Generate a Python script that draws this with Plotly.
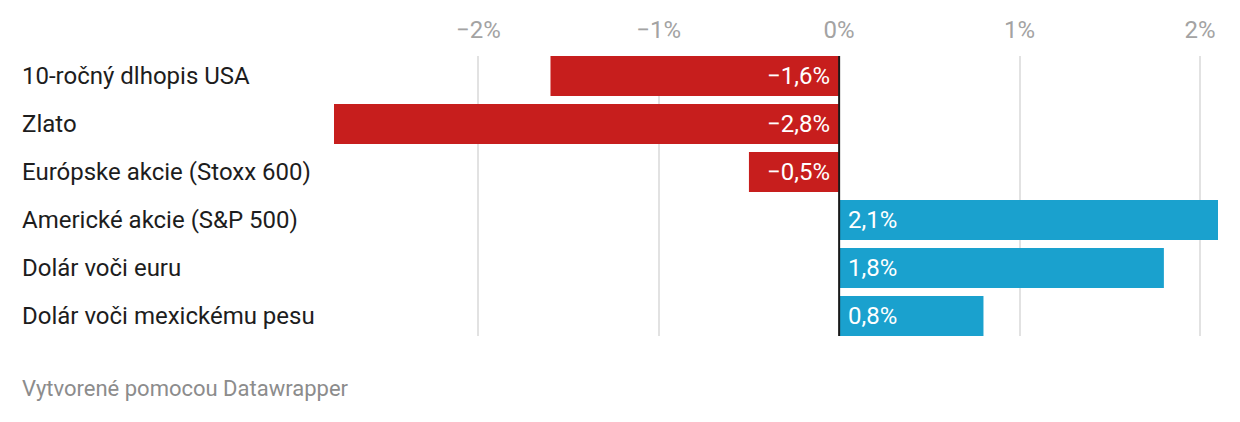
import plotly.graph_objects as go

categories = ["10-ročný dlhopis USA", "Zlato", "Európske akcie (Stoxx 600)",
              "Americké akcie (S&P 500)", "Dolár voči euru", "Dolár voči mexickému pesu"]
values = [-1.6, -2.8, -0.5, 2.1, 1.8, 0.8]
value_labels = ["−1,6%", "−2,8%", "−0,5%", "2,1%", "1,8%", "0,8%"]
tick_vals = [-2, -1, 0, 1, 2]
tick_text = ["−2%", "−1%", "0%", "1%", "2%"]

RED = "#c71e1d"
BLUE = "#1aa1ce"
colors = [RED if v < 0 else BLUE for v in values]
FONT = "Roboto, Arial, sans-serif"

# page has an 8px body margin, so figure is offset by 8px
W, H = 1232, 414
plot_left, plot_right = 326, 1210
plot_top, plot_bot = 48, 328
pw = plot_right - plot_left
ph = plot_bot - plot_top

fig = go.Figure()
fig.add_trace(go.Bar(
    x=values, y=list(range(len(categories))), orientation="h",
    marker=dict(color=colors, line=dict(width=0)),
    width=40/48, hoverinfo="skip", showlegend=False,
))

# zero line
fig.add_shape(type="line", x0=0, x1=0, y0=0, y1=1, xref="x", yref="paper",
              line=dict(color="#1a1a1a", width=2), layer="above")

annotations = []
for i, (v, lab) in enumerate(zip(values, value_labels)):
    annotations.append(dict(
        x=0, y=i, xref="x", yref="y", text=lab, showarrow=False,
        xanchor="right" if v < 0 else "left", xshift=-7 if v < 0 else 7,
        font=dict(family=FONT, size=24, color="white"),
    ))
label_x = (12 - plot_left) / pw
for i, cat in enumerate(categories):
    annotations.append(dict(
        x=label_x, y=i, xref="paper", yref="y", text=cat, showarrow=False,
        xanchor="left", font=dict(family=FONT, size=24, color="#1d1d1d"),
    ))
annotations.append(dict(
    x=label_x, y=(plot_bot - 380) / ph, xref="paper", yref="paper",
    text="Vytvorené pomocou Datawrapper",
    showarrow=False, xanchor="left", yanchor="middle",
    font=dict(family=FONT, size=22, color="#8c8c8c"),
))

fig.update_layout(
    width=W, height=H,
    margin=dict(l=plot_left, r=W - plot_right, t=plot_top, b=H - plot_bot, pad=0,
                autoexpand=False),
    paper_bgcolor="white", plot_bgcolor="white",
    bargap=8/48,
    annotations=annotations,
    xaxis=dict(
        range=[-2.8, 2.1], side="top", tickvals=tick_vals, ticktext=tick_text,
        showgrid=True, gridcolor="#e2e2e2", gridwidth=2, zeroline=False,
        ticks="outside", ticklen=7, tickcolor="rgba(0,0,0,0)",
        tickfont=dict(family=FONT, size=24, color="#a3a3a3"), showline=False,
        fixedrange=True, automargin=False,
    ),
    yaxis=dict(
        range=[5.5 - 4/48, -0.5 + 4/48], showticklabels=False, showgrid=False,
        zeroline=False, showline=False, fixedrange=True, automargin=False,
    ),
)

fig.write_html("out.html")
